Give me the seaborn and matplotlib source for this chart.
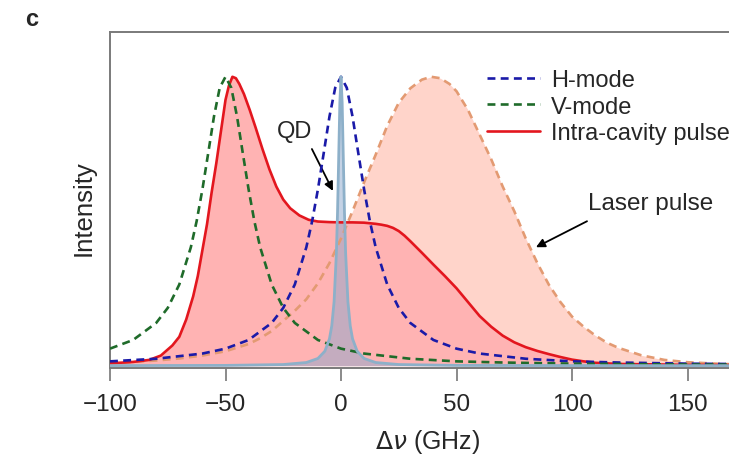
import matplotlib
matplotlib.use("Agg")
import matplotlib.pyplot as plt
import seaborn as sns
import pandas as pd

# ---------------- data ----------------
h_x = [-100, -80, -60, -50, -40, -30, -25, -20, -15, -12.5, -10, -7.5, -5, -2.5, 0,
       2.5, 5, 7.5, 10, 12.5, 15, 20, 25, 30, 40, 50, 60, 80, 100, 120, 150, 200]
h_y = [0.015, 0.024, 0.042, 0.059, 0.089, 0.148, 0.2, 0.281, 0.41, 0.5, 0.61, 0.735, 0.862, 0.962, 1.0,
       0.962, 0.862, 0.735, 0.61, 0.5, 0.41, 0.281, 0.2, 0.148, 0.089, 0.059, 0.042, 0.024, 0.015, 0.011, 0.007, 0.004]

v_x = [-100, -90, -80, -75, -70, -65, -62.5, -60, -57.5, -55, -52.5, -50,
       -47.5, -45, -42.5, -40, -37.5, -35, -30, -25, -20, -10, 0, 10, 30, 50, 70, 100, 150, 200]
v_y = [0.059, 0.089, 0.148, 0.2, 0.281, 0.41, 0.5, 0.61, 0.735, 0.862, 0.962, 1.0,
       0.962, 0.862, 0.735, 0.61, 0.5, 0.41, 0.281, 0.2, 0.148, 0.089, 0.059, 0.042, 0.024, 0.015, 0.011, 0.007, 0.004, 0.003]

r_x = [-100, -90, -83, -78, -73, -70, -67, -64, -62, -60, -58, -56, -54, -52, -50, -48.5, -47,
       -45.5, -44, -42, -39.5, -37, -34, -31, -28, -25, -22, -18, -14, -10, -5, 0, 5, 10, 15, 17.5, 20,
       22.5, 25, 27.5, 30, 35, 40, 45, 50, 55, 60, 65, 70, 75, 80, 85, 90, 95, 100, 105, 110, 120, 150, 200]
r_y = [0.008, 0.013, 0.02, 0.035, 0.07, 0.1, 0.16, 0.24, 0.31, 0.40, 0.49, 0.60, 0.70, 0.81, 0.92, 0.97, 1.0,
       0.995, 0.975, 0.94, 0.885, 0.825, 0.75, 0.68, 0.62, 0.575, 0.545, 0.52, 0.505, 0.499, 0.497, 0.496, 0.496, 0.495, 0.491, 0.488, 0.484,
       0.477, 0.466, 0.45, 0.431, 0.391, 0.35, 0.31, 0.268, 0.22, 0.172, 0.135, 0.104, 0.081, 0.064, 0.051, 0.04, 0.03, 0.021, 0.015, 0.01, 0.006, 0.003, 0.001]

l_x = [-100, -80, -70, -60, -50, -40, -35, -30, -25, -20, -15, -10, -5, 0, 5, 10, 15, 20, 25, 30,
       35, 39, 43, 47, 50, 55, 60, 65, 70, 75, 80, 85, 90, 95, 100, 105, 110, 115, 120, 130, 140, 150,
       165, 180, 200]
l_y = [0.008, 0.018, 0.025, 0.035, 0.05, 0.075, 0.095, 0.12, 0.155, 0.19, 0.23, 0.285, 0.355, 0.44, 0.535, 0.635, 0.73, 0.83, 0.91, 0.96,
       0.99, 1.0, 0.995, 0.975, 0.95, 0.885, 0.80, 0.715, 0.62, 0.535, 0.44, 0.355, 0.28, 0.22, 0.17, 0.135, 0.105, 0.08, 0.062, 0.036, 0.02, 0.012,
       0.006, 0.003, 0.001]

q_x = [-100, -50, -25, -15, -10, -7, -5, -4, -3, -2, -1.5, -1, -0.5, 0,
       0.5, 1, 1.5, 2, 3, 4, 5, 7, 10, 15, 25, 50, 100, 200]
q_y = [0.0003, 0.001, 0.004, 0.011, 0.025, 0.05, 0.093, 0.138, 0.221, 0.39, 0.532, 0.719, 0.911, 1.0,
       0.911, 0.719, 0.532, 0.39, 0.221, 0.138, 0.093, 0.05, 0.025, 0.011, 0.004, 0.001, 0.0003, 0.0001]

x_ticks = [-100, -50, 0, 50, 100, 150]
x_tick_labels = ["\u2212100", "\u221250", "0", "50", "100", "150"]

# ---------------- style ----------------
sns.set_style("white")
plt.rcParams["font.family"] = ["Liberation Sans", "DejaVu Sans"]
plt.rcParams["mathtext.fontset"] = "dejavusans"

fig = plt.figure(figsize=(7.29, 4.56), dpi=100)
ax = fig.add_axes([110 / 729, 1 - 369 / 456, 693 / 729, 336 / 456])

c_laser_fill = "#ffd4ca"
c_red_fill = "#ffb3b3"
c_qd_fill = "#8aa6cc"
c_laser = "#e39a72"
c_red = "#e3161e"
c_blue = "#1a1aa8"
c_green = "#1f6b2a"
c_qd = "#8db0c9"

dash = (3.0, 2.0)

# fills
ax.fill_between(l_x, l_y, 0, color=c_laser_fill, lw=0, zorder=1)
ax.fill_between(r_x, r_y, 0, color=c_red_fill, lw=0, zorder=2)
ax.fill_between(q_x, q_y, 0, color=c_qd_fill, alpha=0.5, lw=0, zorder=3)

df_l = pd.DataFrame({"x": l_x, "y": l_y})
df_r = pd.DataFrame({"x": r_x, "y": r_y})
df_h = pd.DataFrame({"x": h_x, "y": h_y})
df_v = pd.DataFrame({"x": v_x, "y": v_y})
df_q = pd.DataFrame({"x": q_x, "y": q_y})

sns.lineplot(data=df_l, x="x", y="y", ax=ax, color=c_laser, lw=1.9, zorder=4, legend=False)
ax.lines[-1].set_dashes(dash)
sns.lineplot(data=df_r, x="x", y="y", ax=ax, color=c_red, lw=1.9, zorder=5,
             label="Intra-cavity pulse")
sns.lineplot(data=df_h, x="x", y="y", ax=ax, color=c_blue, lw=1.9, zorder=6,
             label="H-mode")
ax.lines[-1].set_dashes(dash)
sns.lineplot(data=df_v, x="x", y="y", ax=ax, color=c_green, lw=1.9, zorder=6,
             label="V-mode")
ax.lines[-1].set_dashes(dash)
sns.lineplot(data=df_q, x="x", y="y", ax=ax, color=c_qd, lw=2.0, zorder=7, legend=False)

ax.set_xlim(-100, 200)
ax.set_ylim(-0.008, 1.155)
ax.set_xticks(x_ticks)
ax.set_xticklabels(x_tick_labels)
ax.set_yticks([])
ax.tick_params(axis="x", direction="out", length=9, width=1.2, color="#777777",
               labelsize=17.5, pad=9, bottom=True)
for s in ax.spines.values():
    s.set_color("#7a7a7a")
    s.set_linewidth(1.4)

ax.set_xlabel(r"$\Delta\nu$ (GHz)", fontsize=18)
ax.xaxis.set_label_coords((428 - 110) / 693, -(442 - 369) / 336)
ax.xaxis.label.set_va("center")
ax.set_ylabel("Intensity", fontsize=18.5)
ax.yaxis.set_label_coords(-(110 - 84) / 693, (369 - 208) / 336)
ax.yaxis.label.set_va("center")

# legend (order: H, V, Intra-cavity)
handles, labels = ax.get_legend_handles_labels()
order = [labels.index("H-mode"), labels.index("V-mode"), labels.index("Intra-cavity pulse")]
leg = ax.legend([handles[i] for i in order], [labels[i] for i in order],
                loc="upper left", bbox_to_anchor=(487 / 729, 1 - 70 / 456),
                bbox_transform=fig.transFigure, frameon=False, fontsize=17,
                handlelength=2.25, handletextpad=0.45, labelspacing=0.2,
                borderpad=0, borderaxespad=0)

# annotations
ax.text(-19.9, 0.813, "QD", fontsize=17, ha="center", va="center")
ax.annotate("", xy=(-3.5, 0.605), xytext=(-12.6, 0.75),
            arrowprops=dict(arrowstyle="-|>", color="black", lw=1.3,
                            shrinkA=0, shrinkB=0, mutation_scale=13))
ax.text(134, 0.564, "Laser pulse", fontsize=17.5, ha="center", va="center")
ax.annotate("", xy=(84.4, 0.41), xytext=(106.5, 0.50),
            arrowprops=dict(arrowstyle="-|>", color="black", lw=1.3,
                            shrinkA=0, shrinkB=0, mutation_scale=13))

fig.text(25 / 729, 1 - 19 / 456, "c", fontsize=17, fontweight="bold", va="center", ha="left")

fig.savefig("out.png", dpi=100)
